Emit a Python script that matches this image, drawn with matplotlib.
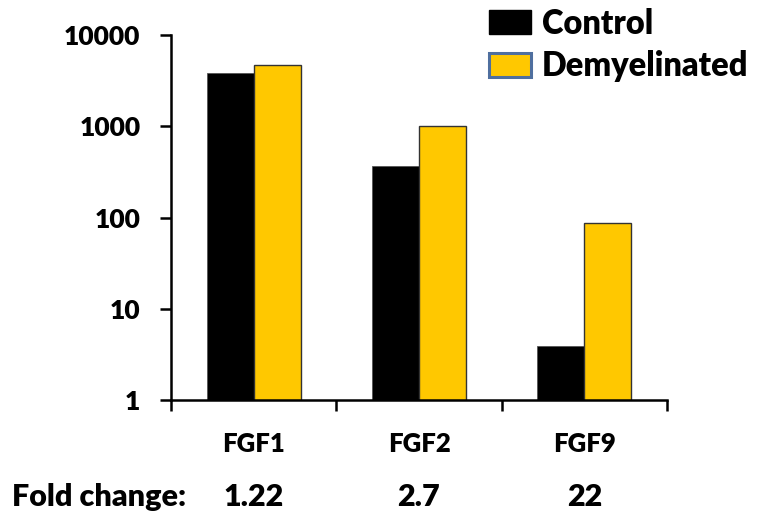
import matplotlib.pyplot as plt
from matplotlib.patches import Patch
from matplotlib.transforms import blended_transform_factory
import numpy as np

genes = ["FGF1", "FGF2", "FGF9"]
control = [3800, 370, 3.9]
demyelinated = [4650, 1000, 86]
fold_change = ["1.22", "2.7", "22"]

YELLOW = "#FFC800"
FONT = "Lato"
WEIGHT = "heavy"

plt.rcParams["font.family"] = FONT
plt.rcParams["font.weight"] = WEIGHT

fig = plt.figure(figsize=(7.62, 5.22), dpi=100)
ax = fig.add_axes([171 / 762, 1 - 400 / 522, 496 / 762, 365 / 522])

x = np.arange(len(genes))
w = 0.285
ax.bar(x - w / 2, control, width=w, color="black", edgecolor="#555555", linewidth=0.6)
ax.bar(x + w / 2, demyelinated, width=w, color=YELLOW, edgecolor="#333333", linewidth=1.0)

ax.set_yscale("log")
ax.set_ylim(1, 10000)
ax.set_xlim(-0.5, len(genes) - 0.5)
ax.set_yticks([1, 10, 100, 1000, 10000])
ax.set_yticklabels(["1", "10", "100", "1000", "10000"])
ax.yaxis.set_minor_locator(plt.NullLocator())
ax.set_xticks(np.arange(len(genes) + 1) - 0.5)
ax.set_xticklabels([])

for side in ["top", "right"]:
    ax.spines[side].set_visible(False)
for side in ["left", "bottom"]:
    ax.spines[side].set_linewidth(1.8)
ax.tick_params(axis="both", direction="out", length=8, width=1.8, labelsize=19, pad=14)

# gene names and fold-change row below the axis
trans = blended_transform_factory(ax.transData, fig.transFigure)
for i, g in enumerate(genes):
    ax.text(i, 1 - 444 / 522, g, transform=trans, ha="center", va="center",
            fontsize=18.5, fontweight=WEIGHT, clip_on=False)
    ax.text(i, 1 - 497 / 522, fold_change[i], transform=trans, ha="center", va="center",
            fontsize=22, fontweight=WEIGHT, clip_on=False)
fig.text(12 / 762, 1 - 497 / 522, "Fold change:", ha="left", va="center",
         fontsize=22, fontweight=WEIGHT)

handles = [Patch(facecolor="black", edgecolor="black", label="Control"),
           Patch(facecolor=YELLOW, edgecolor="#4F6F9F", linewidth=2.2, label="Demyelinated")]
fig.legend(handles=handles, loc="upper left", bbox_to_anchor=(482 / 762, 1 - 1 / 522),
           frameon=False, handlelength=1.3, handleheight=0.75,
           handletextpad=0.33, labelspacing=0.32, borderaxespad=0, borderpad=0.2,
           prop={"family": FONT, "weight": WEIGHT, "size": 23.5})

fig.savefig("out.png", dpi=100)
